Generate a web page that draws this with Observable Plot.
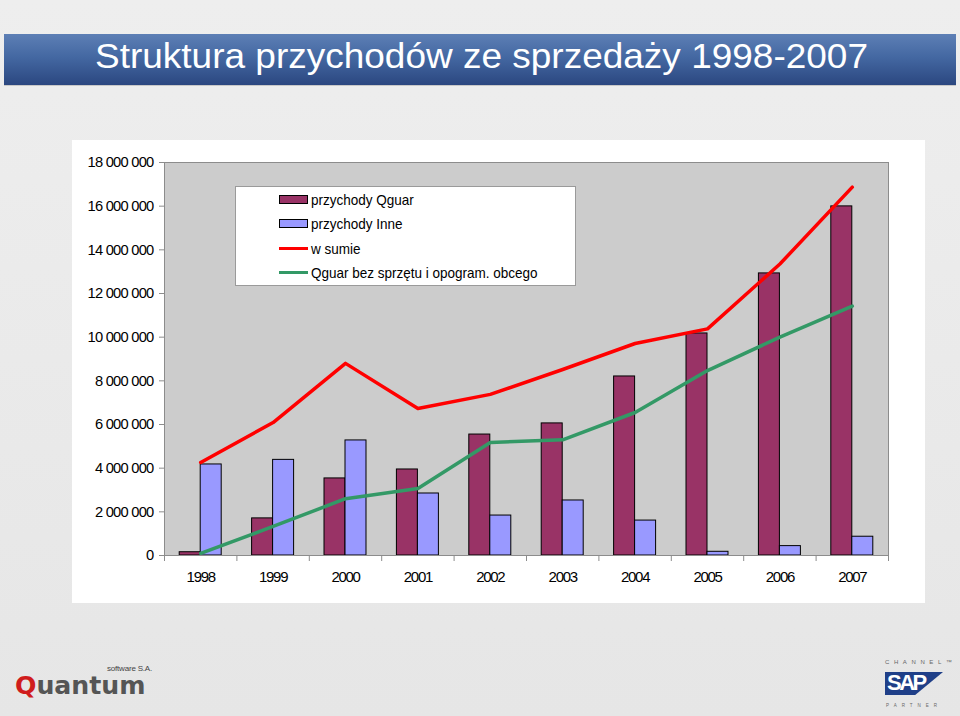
<!DOCTYPE html>
<html><head><meta charset="utf-8">
<script src="https://cdn.jsdelivr.net/npm/d3@7"></script>
<script src="https://cdn.jsdelivr.net/npm/@observablehq/plot@0.6"></script>
<style>
html,body{margin:0;padding:0}
body{width:960px;height:716px;overflow:hidden;position:relative;font-family:"Liberation Sans",Arial,sans-serif;
 background:linear-gradient(180deg,#eeeeee 0%,#e6e6e6 100%);}
.abs{position:absolute}
#titlebar{left:4px;top:34px;width:952px;height:51px;background:linear-gradient(180deg,#5d7fb5 0%,#4468a2 45%,#2b4780 100%);box-shadow:0 1px 0 #c8c8c8}
#title{left:95px;top:36px;color:#fff;font-size:35px;white-space:nowrap;transform-origin:0 0;line-height:40px}
#chart{left:72px;top:140px}
#chart g[aria-label="y-axis tick label"] text{letter-spacing:-0.75px}
#chart g[aria-label="x-axis tick label"] text{letter-spacing:-1.3px}
#legend{left:235px;top:186px;width:341px;height:100px;background:#fff;border:1px solid #9a9a9a;box-sizing:border-box}
.lt{position:absolute;left:75px;font-size:15px;color:#000;white-space:nowrap;line-height:17px;transform-origin:0 0;transform:scaleX(0.9)}
.sw{position:absolute;left:43px;width:27px;height:7px;border:1px solid #000}
.ln{position:absolute;left:43px;width:29px;height:3px}
#q{left:15px;top:674px;font-family:"DejaVu Sans",sans-serif;font-weight:bold;font-size:24px;line-height:24px;white-space:nowrap;color:#555;transform-origin:0 0;transform:scaleX(1.05)}
#q b{color:#d01c1c}
#sw{left:107px;top:664px;font-size:8px;color:#444;white-space:nowrap;letter-spacing:-0.2px}
#sapc{left:885px;top:659px;font-size:6px;letter-spacing:4.6px;color:#666;white-space:nowrap}
#sapb{left:885px;top:672px;width:58px;height:23px;background:#1f3f88;clip-path:polygon(0 0,100% 0,52% 100%,0 100%)}
#sapt{left:887px;top:670px;font-size:22px;font-weight:bold;color:#fff;letter-spacing:-2.5px}
#sapp{left:886px;top:703px;font-size:4.5px;letter-spacing:5px;color:#666;white-space:nowrap}
</style></head><body>
<div id="titlebar" class="abs"></div>
<div id="title" class="abs">Struktura przychodów ze sprzedaży 1998-2007</div>
<div id="chart" class="abs"></div>
<div id="legend" class="abs">
  <div class="sw" style="top:8px;background:#993366"></div><div class="lt" style="top:4px">przychody Qguar</div>
  <div class="sw" style="top:32px;background:#9999ff"></div><div class="lt" style="top:28px">przychody Inne</div>
  <div class="ln" style="top:60px;background:#ff0000"></div><div class="lt" style="top:53px">w sumie</div>
  <div class="ln" style="top:84px;background:#339966"></div><div class="lt" style="top:77px">Qguar bez sprzętu i opogram. obcego</div>
</div>
<div id="q" class="abs"><b>Q</b>uantum</div>
<div id="sw" class="abs">software S.A.</div>
<div id="sapc" class="abs">CHANNEL™</div>
<div id="sapb" class="abs"></div>
<div id="sapt" class="abs">SAP</div>
<div id="sapp" class="abs">PARTNER</div>
<script>
const years = [1998, 1999, 2000, 2001, 2002, 2003, 2004, 2005, 2006, 2007];
const przychodyQguar = [150000, 1700000, 3530000, 3940000, 5540000, 6050000, 8200000, 10170000, 12920000, 15990000];
const przychodyInne = [4170000, 4380000, 5270000, 2840000, 1830000, 2520000, 1600000, 170000, 430000, 860000];
const wSumie = [4260000, 6090000, 8800000, 6730000, 7380000, 8520000, 9710000, 10380000, 13350000, 16870000];
const qguarBezSprzetu = [100000, 1330000, 2600000, 3070000, 5180000, 5300000, 6550000, 8470000, 10000000, 11420000];
const yTickValues = [0, 2000000, 4000000, 6000000, 8000000, 10000000, 12000000, 14000000, 16000000, 18000000];

const rows = years.map((year, i) => ({
  year, qguar: przychodyQguar[i], inne: przychodyInne[i], suma: wSumie[i], bez: qguarBezSprzetu[i]
}));
const bounds = years.map(y => y - 0.5).concat([years[years.length - 1] + 0.5]);
const half = 0.29;
const fmt = d => d3.format(",")(d).replace(/,/g, " ");

const chart = Plot.plot({
  width: 853, height: 463,
  marginLeft: 92, marginRight: 37, marginTop: 22, marginBottom: 48,
  style: {background: "white", fontFamily: "Liberation Sans, Arial, sans-serif", fontSize: "14px", color: "#000", overflow: "visible"},
  x: {domain: [bounds[0], bounds[bounds.length - 1]], label: null},
  y: {domain: [0, 18000000], label: null},
  marks: [
    Plot.frame({fill: "#cccccc", stroke: "#8c8c8c"}),
    Plot.rect(rows, {x1: d => d.year - half, x2: d => d.year, y1: d => 0, y2: "qguar", fill: "#993366", stroke: "#000", strokeWidth: 1}),
    Plot.rect(rows, {x1: d => d.year, x2: d => d.year + half, y1: d => 0, y2: "inne", fill: "#9999ff", stroke: "#000", strokeWidth: 1}),
    Plot.line(rows, {x: "year", y: "suma", stroke: "#ff0000", strokeWidth: 3.5}),
    Plot.line(rows, {x: "year", y: "bez", stroke: "#339966", strokeWidth: 3.5}),
    Plot.ruleY([0], {stroke: "#8c8c8c"}),
    Plot.axisY({ticks: yTickValues, tickFormat: fmt, tickSize: 5, tickPadding: 6, fontSize: 14.7, stroke: "#8c8c8c"}),
    Plot.axisX({ticks: years, tickSize: 0, tickPadding: 16, tickFormat: d3.format("d"), fontSize: 15}),
    Plot.axisX({ticks: bounds, tickSize: 6, tickFormat: () => "", stroke: "#8c8c8c"})
  ]
});
document.getElementById("chart").appendChild(chart);

const t = document.getElementById("title");
const w = t.getBoundingClientRect().width;
t.style.transform = `scaleX(${773 / w})`;
</script>
</body></html>
